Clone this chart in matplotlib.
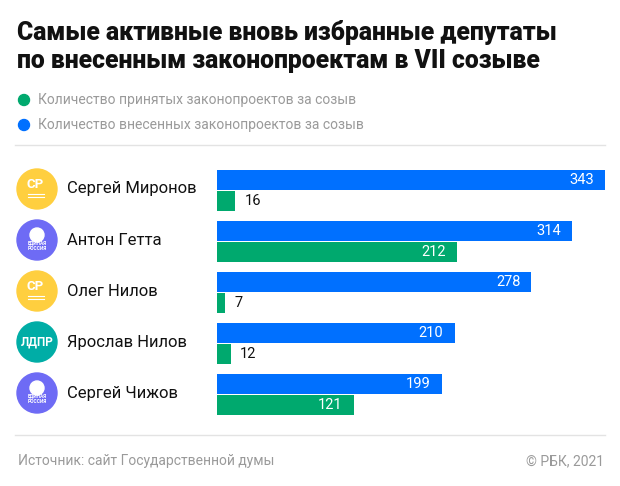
import matplotlib.pyplot as plt
from matplotlib.patches import Ellipse

names = ['Сергей Миронов', 'Антон Гетта', 'Олег Нилов', 'Ярослав Нилов', 'Сергей Чижов']
parties = ['СР', 'ЕР', 'СР', 'ЛДПР', 'ЕР']
introduced = [343, 314, 278, 210, 199]
adopted = [16, 212, 7, 12, 121]

title = 'Самые активные вновь избранные депутаты\nпо внесенным законопроектам в VII созыве'
legend_labels = ['Количество принятых законопроектов за созыв',
                 'Количество внесенных законопроектов за созыв']
source = 'Источник: сайт Государственной думы'
copyright_text = '© РБК, 2021'

blue = '#0070FF'
green = '#00A96E'
gray = '#9a9a9a'
party_colors = {'СР': '#FFCF3F', 'ЕР': '#6E6BF5', 'ЛДПР': '#00ADA6'}

plt.rcParams['font.family'] = ['Roboto', 'DejaVu Sans']

W, H = 620, 486
fig = plt.figure(figsize=(W / 100, H / 100), dpi=100)


def fx(x):
    return x / W


def fy(y):
    return 1 - y / H


def dot(x, y, r, c):
    fig.patches.append(Ellipse((fx(x), fy(y)), 2 * r / W, 2 * r / H, color=c,
                               transform=fig.transFigure, figure=fig))


# title + legend
fig.text(fx(17), fy(20), title, fontsize=17.8, fontweight='heavy', va='top',
         ha='left', linespacing=1.2, color='#111111')
for i, (lab, c) in enumerate(zip(legend_labels, [green, blue])):
    y = 100 + 25 * i
    dot(24, y, 5.5, c)
    fig.text(fx(38), fy(y), lab, fontsize=10, color=gray, va='center', ha='left')

# separators
for y in [145, 435]:
    fig.add_artist(plt.Line2D([fx(15), fx(605)], [fy(y), fy(y)], color='#e3e3e3', lw=1))

# bars
ax = fig.add_axes([fx(217), fy(415), fx(605) - fx(217), (415 - 170) / H])
step = 51
pos_blue = [i * step + 10 for i in range(len(names))]
pos_green = [i * step + 30.5 for i in range(len(names))]
ax.barh(pos_blue, introduced, height=20, color=blue)
ax.barh(pos_green, adopted, height=20, color=green)
ax.set_xlim(0, 343)
ax.set_ylim(245, 0)
ax.axis('off')

for ys, vals in [(pos_blue, introduced), (pos_green, adopted)]:
    for y, v in zip(ys, vals):
        if v > 50:
            ax.annotate(str(v), (v, y), xytext=(-8, 0), textcoords='offset points',
                        ha='right', va='center', color='white', fontsize=10.5)
        else:
            ax.annotate(str(v), (v, y), xytext=(7, 0), textcoords='offset points',
                        ha='left', va='center', color='#111111', fontsize=10.5)

# names and party badges
for i, (n, p) in enumerate(zip(names, parties)):
    yc = 189 + step * i
    dot(37, yc, 20, party_colors[p])
    if p == 'ЕР':
        fig.text(fx(37), fy(yc + 6), 'ЕДИНАЯ\nРОССИЯ', fontsize=3.5, color='white',
                 ha='center', va='center', fontweight='bold', linespacing=1.0)
        dot(37, yc - 5, 7, 'white')
    elif p == 'СР':
        fig.text(fx(35), fy(yc - 5), p, fontsize=9.5, color='white',
                 ha='center', va='center', fontweight='bold')
        fig.add_artist(plt.Line2D([fx(28), fx(44)], [fy(yc + 5), fy(yc + 5)],
                                  color='white', lw=0.8))
        fig.add_artist(plt.Line2D([fx(28), fx(44)], [fy(yc + 8), fy(yc + 8)],
                                  color='white', lw=0.8))
    else:
        fig.text(fx(37), fy(yc), p, fontsize=8.5, color='white',
                 ha='center', va='center', fontweight='bold')
    fig.text(fx(67), fy(yc), n, fontsize=12, color='#111111', ha='left', va='center')

# footer
fig.text(fx(18), fy(461), source, fontsize=10, color=gray, ha='left', va='center')
fig.text(fx(604), fy(461), copyright_text, fontsize=10, color=gray, ha='right', va='center')

fig.savefig('out.png', dpi=100)
